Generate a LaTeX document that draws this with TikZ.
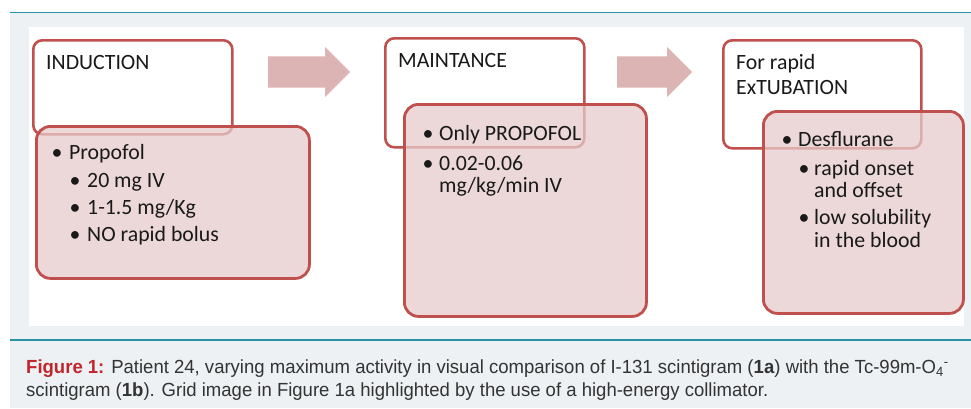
\documentclass[tikz,border=0pt]{standalone}
\usepackage{fontspec}
\setmainfont{Carlito}
\newfontfamily\capfont[FakeStretch=0.975]{Liberation Sans}
\usetikzlibrary{shapes.arrows}
\definecolor{boxred}{HTML}{C0504D}
\definecolor{boxpink}{HTML}{E6CBCB}
\definecolor{arrowpink}{HTML}{DDB4B4}
\definecolor{panelgray}{HTML}{EDF1F4}
\definecolor{teal}{HTML}{2A93A3}
\definecolor{captxt}{HTML}{333333}
\definecolor{capred}{HTML}{C0272D}
\newcommand\boxfont{\fontsize{21.8}{25}\selectfont}
\tikzset{
  headbox/.style={draw=boxred, line width=2.6pt, fill=white, rounded corners=9pt,
    rectangle, anchor=north west, inner sep=0pt},
  bodybox/.style={draw=boxred, line width=2.8pt, fill=boxpink, fill opacity=0.75,
    draw opacity=1, rounded corners=14pt, rectangle, anchor=north west, inner sep=0pt},
  txt/.style={anchor=base west, inner sep=0pt, font=\boxfont, text=black!90},
  bul/.style={anchor=base, inner sep=0pt, font=\boxfont, text=black!90},
  blockarrow/.style={single arrow, fill=arrowpink, draw=none, inner xsep=0pt,
    inner ysep=15.5pt, single arrow head extend=9.5pt, single arrow head indent=0pt,
    single arrow tip angle=90, anchor=west},
  captext/.style={anchor=base west, inner sep=0pt, text=captxt,
    font=\capfont\fontsize{19}{23}\selectfont},
}
\begin{document}
\begin{tikzpicture}[x=1pt, y=-1pt]
\useasboundingbox (0,0) rectangle (971,408);
\fill[white] (0,0) rectangle (971,408);
\fill[panelgray] (10,13) rectangle (971,408);
\fill[white] (29,27) rectangle (964,326);
\draw[teal, line width=1.5pt] (10,12.5) -- (971,12.5);
\draw[teal, line width=1.5pt] (10,340) -- (971,340);

% arrows
\node[blockarrow, minimum height=82pt] (ar1) at (268,72) {};
\node[blockarrow, minimum height=75pt] (ar2) at (617,72) {};

% box 1
\node[headbox, minimum width=199pt, minimum height=94pt] (h1) at (32,39) {};
\node[txt] (t1) at (46,69) {INDUCTION};
\node[bodybox, minimum width=273pt, minimum height=152pt] (b1) at (35,125) {};
\node[bul] (b1a) at (57,159) {•};
\node[txt] (t1a) at (69,159) {Propofol};
\node[bul] (b1b) at (75,187) {•};
\node[txt] (t1b) at (87,187) {20 mg IV};
\node[bul] (b1c) at (75,214) {•};
\node[txt] (t1c) at (87,214) {1-1.5 mg/Kg};
\node[bul] (b1d) at (75,241) {•};
\node[txt] (t1d) at (87,241) {NO rapid bolus};

% box 2
\node[headbox, minimum width=199pt, minimum height=109pt] (h2) at (384,37) {};
\node[txt] (t2) at (398,67) {MAINTANCE};
\node[bodybox, minimum width=242pt, minimum height=212pt] (b2) at (403,103) {};
\node[bul] (b2a) at (428,140) {•};
\node[txt] (t2a) at (439,140) {Only PROPOFOL};
\node[bul] (b2b) at (428,170) {•};
\node[txt] (t2b) at (439,170) {0.02-0.06};
\node[txt] (t2c) at (439,192) {mg/kg/min IV};

% box 3
\node[headbox, minimum width=198pt, minimum height=108pt] (h3) at (722,39) {};
\node[txt] (t3) at (736,69) {For rapid};
\node[txt] (t3x) at (736,94) {ExTUBATION};
\node[bodybox, minimum width=200pt, minimum height=202pt] (b3) at (762,110) {};
\node[bul] (b3a) at (787,146) {•};
\node[txt] (t3a) at (798,146) {Desflurane};
\node[bul] (b3b) at (804,175) {•};
\node[txt] (t3b) at (814,175) {rapid onset};
\node[txt] (t3c) at (814,197) {and offset};
\node[bul] (b3d) at (804,224) {•};
\node[txt] (t3d) at (814,224) {low solubility};
\node[txt] (t3e) at (814,247) {in the blood};

% caption
\node[captext] (cap1) at (26,373) {\textcolor{capred}{\bfseries Figure 1:} Patient 24, varying maximum activity in visual comparison of I-131 scintigram (\textbf{1a}) with the Tc-99m-O\textsubscript{4}\textsuperscript{-}};
\node[captext] (cap2) at (26,396) {scintigram (\textbf{1b}). Grid image in Figure 1a highlighted by the use of a high-energy collimator.};
\end{tikzpicture}
\end{document}
